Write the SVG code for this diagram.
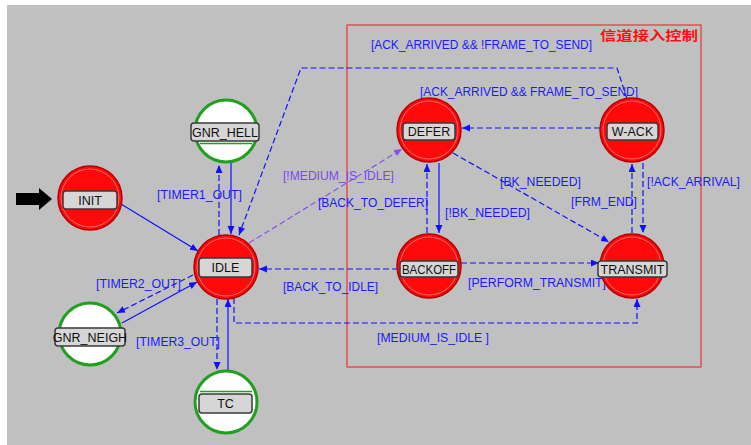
<svg xmlns="http://www.w3.org/2000/svg" width="751" height="445" viewBox="0 0 751 445">
<style>
.bg{fill:#c0c0c0}
.red circle.o{fill:#ff0a0a;stroke:#b80000;stroke-width:1.5}
.red circle.i{fill:none;stroke:#ff6a6a;stroke-width:1}
.grn circle.o{fill:#ffffff;stroke:#1fa01f;stroke-width:3}
.grn line{stroke:#1fa01f;stroke-width:1.5}
.box{fill:#d6d6d6;stroke:#3a3a3a;stroke-width:1.5}
.nt{font-family:"Liberation Sans",Arial,sans-serif;font-size:12.5px;fill:#111;text-anchor:middle}
.lbl{font-family:"Liberation Sans",Arial,sans-serif;font-size:12.5px;fill:#1a1aff}
.plbl{fill:#7a48f0}
.c{fill:none;stroke:#1010ff;stroke-width:1.2}
.d{stroke-dasharray:6,3}
.p{stroke:#8a50f0}
</style>
<defs>
<marker id="ab" markerUnits="userSpaceOnUse" markerWidth="9" markerHeight="8" refX="8" refY="3.5" orient="auto"><path d="M0,0 L8,3.5 L0,7 z" fill="#1010ff"/></marker>
<marker id="ap" markerUnits="userSpaceOnUse" markerWidth="9" markerHeight="8" refX="8" refY="3.5" orient="auto"><path d="M0,0 L8,3.5 L0,7 z" fill="#8a50f0"/></marker>
</defs>
<rect x="0" y="0" width="751" height="445" fill="#ffffff"/>
<rect class="bg" x="7" y="5" width="744" height="440"/>
<rect x="347" y="25" width="354" height="342" fill="none" stroke="#e05050" stroke-width="1.5"/>
<text x="600" y="40" font-family="'Noto Sans CJK SC',sans-serif" font-size="13" font-weight="bold" fill="#ff1010" textLength="98" lengthAdjust="spacingAndGlyphs">信道接入控制</text>

<g id="connectors">
<line class="c" x1="121" y1="204" x2="198" y2="251" marker-end="url(#ab)"/>
<line class="c d" x1="219" y1="235" x2="219" y2="165" marker-end="url(#ab)"/>
<line class="c" x1="231" y1="163" x2="231" y2="234" marker-end="url(#ab)"/>
<polyline class="c d" points="627,99 617,68 301,68 239,235" marker-end="url(#ab)"/>
<line class="c d p" x1="249" y1="243" x2="402" y2="149" marker-end="url(#ap)"/>
<line class="c d" x1="398" y1="269" x2="259" y2="269" marker-end="url(#ab)"/>
<polyline class="c d" points="234,298 234,323 637,323 637,299" marker-end="url(#ab)"/>
<line class="c d" x1="193" y1="275" x2="117" y2="313" marker-end="url(#ab)"/>
<line class="c" x1="122" y1="323" x2="197" y2="282" marker-end="url(#ab)"/>
<line class="c d" x1="217" y1="299" x2="217" y2="370" marker-end="url(#ab)"/>
<line class="c" x1="228" y1="370" x2="228" y2="299" marker-end="url(#ab)"/>
<line class="c d" x1="600" y1="128" x2="462" y2="128" marker-end="url(#ab)"/>
<line class="c d" x1="453" y1="153" x2="609" y2="242" marker-end="url(#ab)"/>
<line class="c d" x1="427" y1="233" x2="427" y2="164" marker-end="url(#ab)"/>
<line class="c" x1="439" y1="163" x2="439" y2="233" marker-end="url(#ab)"/>
<line class="c d" x1="632" y1="233" x2="632" y2="164" marker-end="url(#ab)"/>
<line class="c d" x1="643" y1="163" x2="643" y2="233" marker-end="url(#ab)"/>
<line class="c d" x1="461" y1="263" x2="599" y2="263" marker-end="url(#ab)"/>

<text class="lbl" x="371" y="49" textLength="221" lengthAdjust="spacingAndGlyphs">[ACK_ARRIVED &amp;&amp; !FRAME_TO_SEND]</text>
<text class="lbl" x="420" y="96" textLength="218" lengthAdjust="spacingAndGlyphs">[ACK_ARRIVED &amp;&amp; FRAME_TO_SEND]</text>
<text class="lbl plbl" x="283" y="180" textLength="111" lengthAdjust="spacingAndGlyphs">[!MEDIUM_IS_IDLE]</text>
<text class="lbl" x="318" y="207" textLength="110" lengthAdjust="spacingAndGlyphs">[BACK_TO_DEFER]</text>
<text class="lbl" x="445" y="217" textLength="85" lengthAdjust="spacingAndGlyphs">[!BK_NEEDED]</text>
<text class="lbl" x="500" y="186" textLength="81" lengthAdjust="spacingAndGlyphs">[BK_NEEDED]</text>
<text class="lbl" x="571" y="206" textLength="66" lengthAdjust="spacingAndGlyphs">[FRM_END]</text>
<text class="lbl" x="647" y="186" textLength="93" lengthAdjust="spacingAndGlyphs">[!ACK_ARRIVAL]</text>
<text class="lbl" x="468" y="287" textLength="138" lengthAdjust="spacingAndGlyphs">[PERFORM_TRANSMIT]</text>
<text class="lbl" x="283" y="291" textLength="95" lengthAdjust="spacingAndGlyphs">[BACK_TO_IDLE]</text>
<text class="lbl" x="377" y="342" textLength="112" lengthAdjust="spacingAndGlyphs">[MEDIUM_IS_IDLE ]</text>
<text class="lbl" x="157" y="199" textLength="85" lengthAdjust="spacingAndGlyphs">[TIMER1_OUT]</text>
<text class="lbl" x="96" y="288" textLength="85" lengthAdjust="spacingAndGlyphs">[TIMER2_OUT]</text>
<text class="lbl" x="136" y="346" textLength="84" lengthAdjust="spacingAndGlyphs">[TIMER3_OUT]</text>
</g>

<g id="start-arrow">
<path d="M16,193 L39,193 L39,188 L52,199 L39,210 L39,205 L16,205 z" fill="#000"/>
</g>

<g id="INIT" class="red">
<circle class="o" cx="90" cy="198" r="32"/><circle class="i" cx="90" cy="198" r="29"/>
<rect class="box" x="63" y="191" width="54" height="18" rx="3"/>
<text class="nt" x="90" y="204.5">INIT</text>
</g>
<g id="IDLE" class="red">
<circle class="o" cx="226" cy="267" r="32"/><circle class="i" cx="226" cy="267" r="29"/>
<rect class="box" x="199" y="258" width="53" height="19" rx="3"/>
<text class="nt" x="225.5" y="272">IDLE</text>
</g>
<g id="GNR_HELLO" class="grn">
<circle class="o" cx="226" cy="131" r="31"/>
<line x1="200" y1="143.5" x2="252" y2="143.5"/>
<rect class="box" x="191" y="123" width="68" height="18" rx="3"/>
<text class="nt" x="225" y="136.5">GNR_HELL</text>
</g>
<g id="GNR_NEIGH" class="grn">
<circle class="o" cx="90" cy="334" r="31"/>
<rect class="box" x="55" y="328" width="70" height="18" rx="3"/>
<text class="nt" x="90" y="341.5">GNR_NEIGH</text>
</g>
<g id="TC" class="grn">
<circle class="o" cx="226" cy="402" r="31"/>
<line x1="200" y1="391.5" x2="252" y2="391.5"/>
<rect class="box" x="199" y="394" width="53" height="19" rx="3"/>
<text class="nt" x="225.5" y="408">TC</text>
</g>
<g id="DEFER" class="red">
<circle class="o" cx="429" cy="130" r="32"/><circle class="i" cx="429" cy="130" r="29"/>
<rect class="box" x="403" y="123" width="52" height="17" rx="3"/>
<text class="nt" x="429" y="136">DEFER</text>
</g>
<g id="W-ACK" class="red">
<circle class="o" cx="632" cy="130" r="32"/><circle class="i" cx="632" cy="130" r="29"/>
<rect class="box" x="607" y="123" width="51" height="17" rx="3"/>
<text class="nt" x="632.5" y="136">W-ACK</text>
</g>
<g id="BACKOFF" class="red">
<circle class="o" cx="429" cy="266" r="32"/><circle class="i" cx="429" cy="266" r="29"/>
<rect class="box" x="400" y="261" width="58" height="16" rx="3"/>
<text class="nt" x="429" y="273.5" textLength="54" lengthAdjust="spacingAndGlyphs">BACKOFF</text>
</g>
<g id="TRANSMIT" class="red">
<circle class="o" cx="632" cy="266" r="32"/><circle class="i" cx="632" cy="266" r="29"/>
<rect class="box" x="598" y="261" width="69" height="16" rx="3"/>
<text class="nt" x="632.5" y="273.5" textLength="64" lengthAdjust="spacingAndGlyphs">TRANSMIT</text>
</g>
</svg>
